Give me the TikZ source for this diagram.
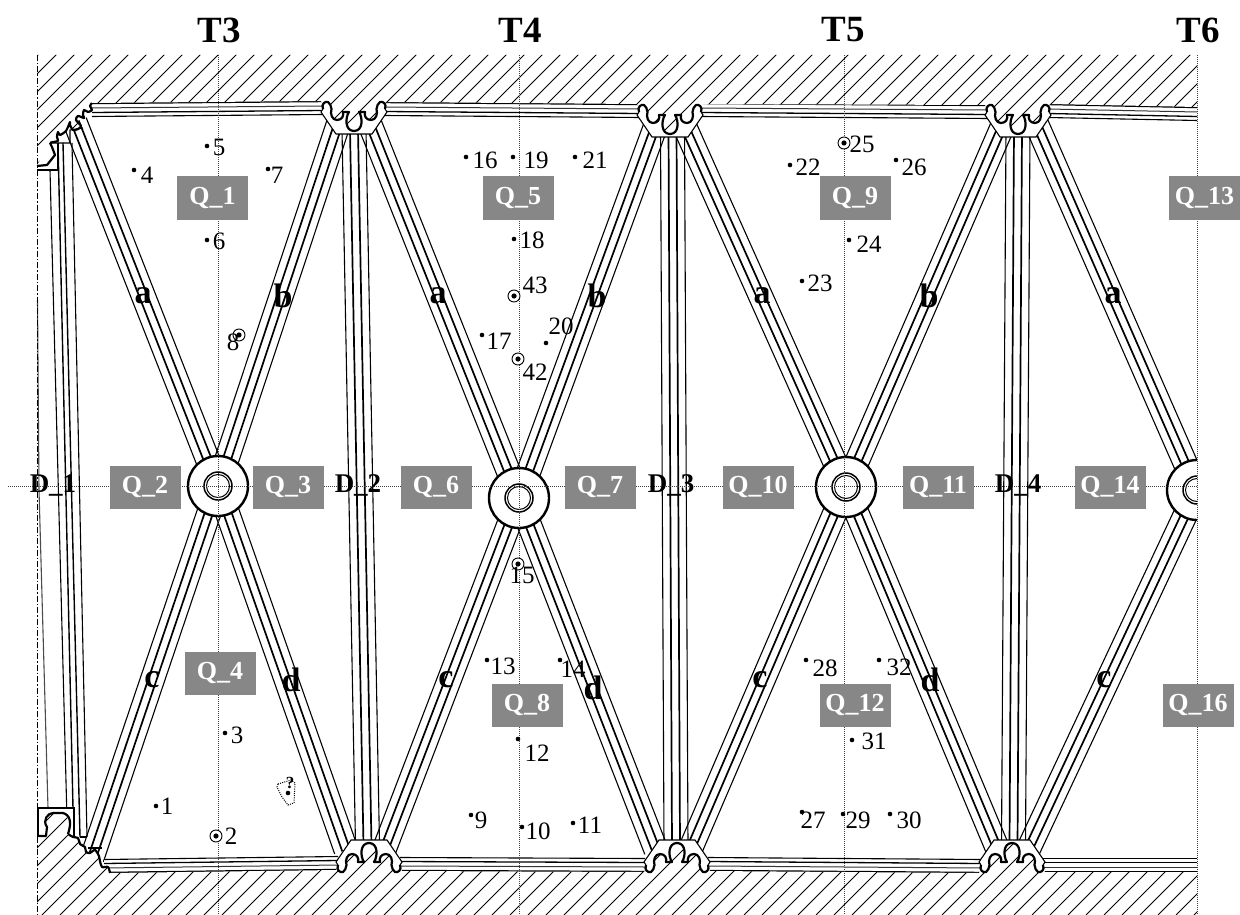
\documentclass[tikz,border=0pt]{standalone}
\usepackage{fontspec}
\setmainfont{Liberation Serif}
\usetikzlibrary{calc}
\definecolor{qgray}{HTML}{878787}
\tikzset{
  axisline/.style={line width=1pt,black!75,dash pattern=on 1pt off 1pt},
  frameline/.style={line width=1pt,black,dash pattern=on 6pt off 2pt on 1.5pt off 2pt},
  qbox/.style={fill=qgray,text=white,minimum width=71pt,minimum height=43pt,inner sep=0pt,font=\fontsize{26}{26}\selectfont\bfseries},
  dlabel/.style={inner sep=0pt,font=\fontsize{27}{27}\selectfont\bfseries},
  tlabel/.style={inner sep=0pt,font=\fontsize{37}{37}\selectfont\bfseries},
  mlabel/.style={inner sep=0pt,font=\fontsize{34}{34}\selectfont\bfseries},
  numlabel/.style={inner sep=0pt,font=\fontsize{25}{25}\selectfont},
  dotpt/.style={circle,fill=black,inner sep=0pt,minimum size=4.6pt},
  ringpt/.style={circle,draw=black,fill=white,line width=.9pt,inner sep=0pt,minimum size=12pt,
     path picture={\fill[black] (path picture bounding box.center) circle (2.6pt);}},
}
% four-line bar between two named points
\newcommand\member[2]{%
  \draw[line width=1.1pt] ($(#1)!12pt!90:(#2)$) -- ($(#2)!12pt!-90:(#1)$);
  \draw[line width=1.1pt] ($(#1)!12pt!-90:(#2)$) -- ($(#2)!12pt!90:(#1)$);
  \draw[line width=1.7pt] ($(#1)!4pt!90:(#2)$) -- ($(#2)!4pt!-90:(#1)$);
  \draw[line width=1.7pt] ($(#1)!4pt!-90:(#2)$) -- ($(#2)!4pt!90:(#1)$);
}
% chord along the top (sign +1) or bottom (sign -1) with thick outer line
\newcommand\chord[3]{%
  \fill[white] (#1) -- (#2) -- ($(#2)+(0,#3*14)$) -- ($(#1)+(0,#3*14)$) -- cycle;
  \draw[line width=2.4pt] (#1) -- (#2);
  \draw[line width=1pt,black!80] ($(#1)+(0,#3*5)$) -- ($(#2)+(0,#3*5)$);
  \draw[line width=1.3pt] ($(#1)+(0,#3*9.5)$) -- ($(#2)+(0,#3*9.5)$);
  \draw[line width=1.1pt] ($(#1)+(0,#3*13.5)$) -- ($(#2)+(0,#3*13.5)$);
}
% gusset plate with scalloped edge
\newcommand\scallopcurve{(-31,25) .. controls (-33,30) and (-29,33) .. (-26,32) .. controls (-24,31) and (-23,28) .. (-22.5,25) .. controls (-24,20) and (-22,14) .. (-17,14) .. controls (-12,14) and (-10,18) .. (-11,22) -- (-5,22) .. controls (-9,16) and (-9,3) .. (0,3) .. controls (9,3) and (9,16) .. (5,22) -- (11,22) .. controls (10,18) and (12,14) .. (17,14) .. controls (22,14) and (24,20) .. (22.5,25) .. controls (23,28) and (24,31) .. (26,32) .. controls (29,33) and (33,30) .. (31,25)}
\newcommand\plate[2]{%
  \begin{scope}[shift={(#1)},yscale=#2]
    \fill[white] (-18,0) -- (-33,22) -- \scallopcurve -- (33,22) -- (18,0) -- cycle;
    \draw[line width=1.1pt] (-31,25) -- (-33,22) -- (-18,0) -- (18,0) -- (33,22) -- (31,25);
    \draw[line width=2.2pt,line join=round] \scallopcurve;
  \end{scope}
}
\newcommand\hub[1]{%
  \filldraw[fill=white,line width=2.4pt] (#1) circle (30pt);
  \draw[line width=1.5pt] (#1) circle (14pt);
  \draw[line width=1pt] (#1) circle (11.5pt);
}
\newcommand\spot[7]{% style, name, dot x,y, text x,y, text
  \node[#1] (p#2) at (#3,#4) {};
  \node[numlabel] (n#2) at (#5,#6) {#7};
}
\newcommand\hatchlines{%
  \foreach \k in {-6,...,120}{\draw[line width=.9pt] ({111+18*\k},0) -- ({111+18*\k-915},915);}
}
\begin{document}
\begin{tikzpicture}[x=1pt,y=-1pt]
\useasboundingbox (0,0) rectangle (1240,915);
\fill[white] (0,0) rectangle (1240,915);
% hubs
\coordinate (h3) at (218,486);
\coordinate (h4) at (519,498);
\coordinate (h5) at (846,487);
\coordinate (h6) at (1197,490);
% member ends
\coordinate (a3) at (75,122);   \coordinate (b3) at (339,122);
\coordinate (c3) at (92,858);   \coordinate (d3) at (346,850);
\coordinate (a4) at (369,122);  \coordinate (b4) at (656,125);
\coordinate (c4) at (384,850);  \coordinate (d4) at (656,850);
\coordinate (a5) at (684,125);  \coordinate (b5) at (1003,125);
\coordinate (c5) at (690,850);  \coordinate (d5) at (998,850);
\coordinate (a6) at (1037,125); \coordinate (c6) at (1028,850);
% vertical bars
\coordinate (vt2) at (354,130);  \coordinate (vb2) at (367.5,845);
\coordinate (vt3) at (672.5,130);\coordinate (vb3) at (676,845);
\coordinate (vt4) at (1018,130); \coordinate (vb4) at (1013.5,845);
\begin{scope}
\clip (37,0) rectangle (1197,915);
\member{h3}{a3}\member{h3}{b3}\member{h3}{c3}\member{h3}{d3}
\member{h4}{a4}\member{h4}{b4}\member{h4}{c4}\member{h4}{d4}
\member{h5}{a5}\member{h5}{b5}\member{h5}{c5}\member{h5}{d5}
\member{h6}{a6}\member{h6}{c6}
\member{vt2}{vb2}\member{vt3}{vb3}\member{vt4}{vb4}
\end{scope}
% left bar
\draw[line width=1.1pt] (50,170) -- (66.7,808);
\draw[line width=1.4pt] (58,143) -- (73,808);
\draw[line width=1.4pt] (63,143) -- (80,837);
\draw[line width=1.1pt] (72,143) -- (87,837);
\draw[line width=1.1pt,black!70] (37.5,300) -- (39,490) -- (48,808);
% chords
\coordinate (t1a) at (92,103);  \coordinate (t1b) at (324,101);
\coordinate (t2a) at (384,102); \coordinate (t2b) at (640,104);
\coordinate (t3a) at (700,103); \coordinate (t3b) at (988,105);
\coordinate (t4a) at (1048,104);\coordinate (t4b) at (1197,107);
\coordinate (u1a) at (104,873); \coordinate (u1b) at (338,870);
\coordinate (u2a) at (400,871); \coordinate (u2b) at (645,872);
\coordinate (u3a) at (708,871); \coordinate (u3b) at (982,873);
\coordinate (u4a) at (1042,872);\coordinate (u4b) at (1197,872);
\chord{t1a}{t1b}{1}\chord{t2a}{t2b}{1}\chord{t3a}{t3b}{1}\chord{t4a}{t4b}{1}
\chord{u1a}{u1b}{-1}\chord{u2a}{u2b}{-1}\chord{u3a}{u3b}{-1}\chord{u4a}{u4b}{-1}
% hatching, top
\begin{scope}
\clip (37,55) -- (1197,55) -- (1197,107) -- (1050,104) -- (1040,123) -- (1018,134) -- (996,123) -- (985,105)
 -- (703,104) -- (692,123) -- (670,134) -- (648,123) -- (637,104)
 -- (387,102) -- (376,120) -- (354,131) -- (332,120) -- (321,101)
 -- (92,103) -- (90,106) -- (92,110) -- (88,112) -- (84,110) -- (83,115) -- (84,118) -- (78,116) -- (76,120) -- (81,126) -- (78,129) -- (73,130) -- (70,125) -- (70,122) -- (68,127) -- (66,131) -- (60,135) -- (58,132) -- (57,137) -- (58,141) -- (53,142) -- (50,143) -- (37,165) -- cycle;
\fill[white] (0,0) rectangle (1240,915);
\hatchlines
\end{scope}
% hatching, bottom
\begin{scope}
\clip (37,915) -- (1197,915) -- (1197,872) -- (1045,872) -- (1034,854) -- (1012,843) -- (990,854) -- (979,873)
 -- (710,871) -- (699,854) -- (677,843) -- (655,854) -- (644,872)
 -- (402,871) -- (391,854) -- (369,843) -- (347,854) -- (336,870)
 -- (110,873) -- (108,867) -- (102,867) -- (100,860) -- (95,850) -- (88,853) -- (85,847) -- (78,838) -- (73,837) -- (67,835) -- (70,820) -- (63,813) -- (53,813) -- (45,820) -- (47,827) -- (46,836) -- (37,836) -- cycle;
\fill[white] (0,0) rectangle (1240,915);
\hatchlines
\end{scope}
% plates
\plate{354,134}{-1}
\plate{670,137}{-1}
\plate{1018,137}{-1}
\plate{369,840}{1}
\plate{677,840}{1}
\plate{1012,840}{1}
% top-left corner
\draw[line width=1.1pt] (37,170) -- (58,170) -- (58,143);
\draw[line width=1.1pt] (50,143) -- (70,143) -- (70,130) -- (83,128);
\draw[line width=2.2pt,line join=round] plot[smooth,tension=.5] coordinates {(92,103)(90,106)(92,110)(88,112)(84,110)(83,115)(84,118)(78,116)(76,120)(81,126)(78,129)(73,130)(70,125)(70,122)(68,127)(66,131)(60,135)(58,132)(57,137)(58,141)(53,142)(50,143)};
\draw[line width=2.2pt,line join=round] (50,143) -- (52,147) -- (55,155) -- (47,165) -- (37,166);
% bottom-left corner
\draw[line width=1.1pt] (38,836) -- (38,808) -- (74,808) -- (74,836);
\draw[line width=1.1pt] (80,837) -- (87,837);
\draw[line width=1.1pt] (88,848) -- (102,848);
\draw[line width=2.2pt,line join=round] (37,836) -- (46,836) -- (47,827) .. controls (42,820) and (48,813) .. (53,813) -- (63,813) .. controls (70,815) and (72,822) .. (68,834);
\draw[line width=2.2pt,line join=round] plot[smooth,tension=.5] coordinates {(68,834)(73,837)(78,838)(80,844)(85,847)(86,852)(90,853)(95,850)(99,856)(100,861)(102,867)(108,867)(110,873)};
% hubs
\begin{scope}
\clip (0,0) rectangle (1197,915);
\hub{h3}\hub{h4}\hub{h5}\hub{h6}
\end{scope}
% axes
\draw[frameline] (37,55) -- (37,915);
\draw[axisline] (218,55) -- (218,915);
\draw[axisline] (519,55) -- (519,915);
\draw[axisline] (844,55) -- (844,915);
\draw[axisline] (1197,55) -- (1197,915);
\draw[axisline] (8,486) -- (1197,486);
% column heads
\node[tlabel] (T3) at (219,30) {T3};
\node[tlabel] (T4) at (520,30) {T4};
\node[tlabel] (T5) at (843,30) {T5};
\node[tlabel] (T6) at (1198,30) {T6};
% zone labels
\node[qbox] (Q1) at (212.5,198) {Q\_1};
\node[qbox] (Q2) at (145,487) {Q\_2};
\node[qbox] (Q3) at (288,487) {Q\_3};
\node[qbox] (Q4) at (220,673) {Q\_4};
\node[qbox] (Q5) at (518,198) {Q\_5};
\node[qbox] (Q6) at (436,487) {Q\_6};
\node[qbox] (Q7) at (600,487) {Q\_7};
\node[qbox] (Q8) at (527,705) {Q\_8};
\node[qbox] (Q9) at (855,198) {Q\_9};
\node[qbox] (Q10) at (758,487) {Q\_10};
\node[qbox] (Q11) at (938,487) {Q\_11};
\node[qbox] (Q12) at (855,705) {Q\_12};
\node[qbox] (Q13) at (1204.5,198) {Q\_13};
\node[qbox] (Q14) at (1110,487) {Q\_14};
\node[qbox] (Q16) at (1198,705) {Q\_16};
\node[dlabel] (D1) at (53,485) {D\_1};
\node[dlabel] (D2) at (358,485) {D\_2};
\node[dlabel] (D3) at (671,485) {D\_3};
\node[dlabel] (D4) at (1018,485) {D\_4};
% member letters
\node[mlabel] (la3) at (143,296) {a};
\node[mlabel] (lb3) at (283,296) {b};
\node[mlabel] (lc3) at (152,680) {c};
\node[mlabel] (ld3) at (291,680) {d};
\node[mlabel] (la4) at (438,296) {a};
\node[mlabel] (lb4) at (597,296) {b};
\node[mlabel] (lc4) at (446,680) {c};
\node[mlabel] (ld4) at (593,688) {d};
\node[mlabel] (la5) at (762,296) {a};
\node[mlabel] (lb5) at (929,296) {b};
\node[mlabel] (lc5) at (760,680) {c};
\node[mlabel] (ld5) at (930,680) {d};
\node[mlabel] (la6) at (1113,296) {a};
\node[mlabel] (lc6) at (1104,680) {c};
% numbered points
\spot{dotpt}{1}{156}{806}{167}{806}{1}
\spot{ringpt}{2}{216}{836}{231}{836}{2}
\spot{dotpt}{3}{225}{733}{237}{735}{3}
\spot{dotpt}{4}{134}{170}{147}{175}{4}
\spot{dotpt}{5}{207}{146}{219}{147}{5}
\spot{dotpt}{6}{207}{240}{219}{241}{6}
\spot{dotpt}{7}{268}{169}{277}{175}{7}
\spot{ringpt}{8}{239}{335}{233}{342}{8}
\spot{dotpt}{9}{471}{815}{481}{820}{9}
\spot{dotpt}{10}{522}{827}{538}{831}{10}
\spot{dotpt}{11}{573}{823}{590}{825}{11}
\spot{dotpt}{12}{518}{739}{537}{753}{12}
\spot{dotpt}{13}{487}{660}{503}{666}{13}
\spot{dotpt}{14}{560}{660}{573}{669}{14}
\spot{ringpt}{15}{518}{564}{522}{575}{15}
\spot{dotpt}{16}{466}{157}{485}{160}{16}
\spot{dotpt}{17}{482}{335}{499}{341}{17}
\spot{dotpt}{18}{514}{239}{532}{240}{18}
\spot{dotpt}{19}{513}{157}{536}{160}{19}
\spot{dotpt}{20}{546}{343}{561}{326}{20}
\spot{dotpt}{21}{575}{157}{595}{160}{21}
\spot{dotpt}{22}{790}{165}{808}{167}{22}
\spot{dotpt}{23}{802}{281}{820}{283}{23}
\spot{dotpt}{24}{849}{240}{869}{244}{24}
\spot{ringpt}{25}{844}{143}{862}{144}{25}
\spot{dotpt}{26}{896}{160}{914}{167}{26}
\spot{dotpt}{27}{802}{812}{813}{820}{27}
\spot{dotpt}{28}{806}{660}{825}{668}{28}
\spot{dotpt}{29}{843}{814}{858}{820}{29}
\spot{dotpt}{30}{890}{814}{909}{820}{30}
\spot{dotpt}{31}{852}{740}{874}{741}{31}
\spot{dotpt}{32}{879}{660}{899}{667}{32}
\spot{ringpt}{42}{518}{359}{535}{372}{42}
\spot{ringpt}{43}{514}{296}{535}{285}{43}
% sketched point with dotted outline
\draw[line width=1pt,dash pattern=on 1pt off 1.2pt] (278,784) -- (291,780) -- (295,783) -- (294,803) -- (288,805) -- (282,797) -- (277,787) -- cycle;
\node[dotpt] (pq) at (288,793) {};
\node[inner sep=0pt,font=\fontsize{17}{17}\selectfont\bfseries] (nq) at (290,783) {?};
\end{tikzpicture}
\end{document}
